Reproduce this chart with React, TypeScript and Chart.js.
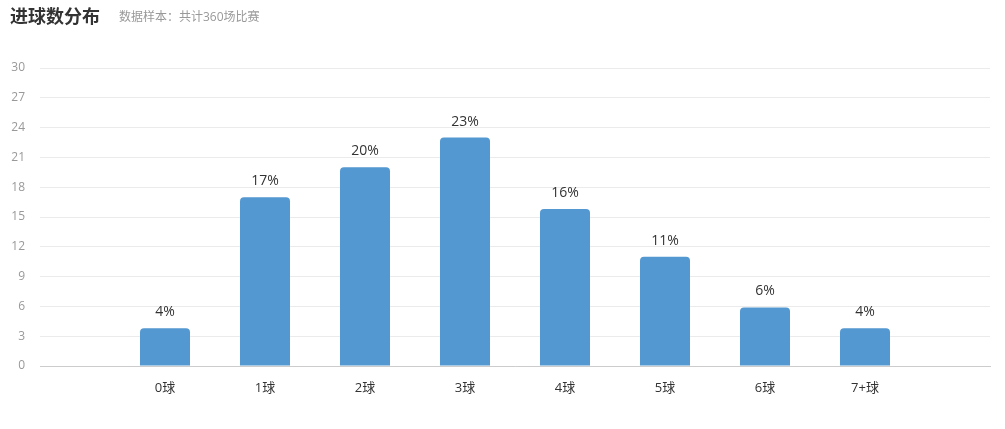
import React, { useEffect, useRef } from "react";
import { Chart, registerables } from "chart.js";

Chart.register(...registerables);

const categories = ["0球", "1球", "2球", "3球", "4球", "5球", "6球", "7+球"];
const values = [3.8, 17, 20, 23, 15.8, 11, 5.9, 3.8];
const yTicks = [0, 3, 6, 9, 12, 15, 18, 21, 24, 27, 30];

const FONT = "'Open Sans', 'Noto Sans CJK SC', sans-serif";

const labelPlugin = {
  id: "barLabels",
  afterDatasetsDraw(chart: any) {
    const ctx = chart.ctx;
    const meta = chart.getDatasetMeta(0);
    ctx.save();
    ctx.fillStyle = "#333";
    ctx.font = `14px ${FONT}`;
    ctx.textAlign = "center";
    ctx.textBaseline = "bottom";
    meta.data.forEach((el: any, i: number) => {
      ctx.fillText(Math.round(values[i]) + "%", el.x, el.y - 9);
    });
    ctx.restore();
  },
};

export default function App() {
  const ref = useRef<HTMLCanvasElement>(null);
  useEffect(() => {
    if (!ref.current) return;
    const chart = new Chart(ref.current, {
      type: "bar",
      data: {
        datasets: [
          {
            data: values.map((v, i) => ({ x: i, y: v })),
            backgroundColor: "#5398d1",
            borderRadius: { topLeft: 4, topRight: 4, bottomLeft: 0, bottomRight: 0 },
            borderSkipped: "bottom",
            barPercentage: 0.5,
            categoryPercentage: 1,
          },
        ],
      },
      options: {
        animation: false,
        responsive: false,
        maintainAspectRatio: false,
        layout: { padding: { left: 0, right: 15, top: 68, bottom: 0 } },
        plugins: { legend: { display: false }, tooltip: { enabled: false } },
        scales: {
          x: {
            type: "linear",
            offset: false,
            min: -1.25,
            max: 8.25,
            afterBuildTicks: (axis: any) => {
              axis.ticks = categories.map((_, i) => ({ value: i }));
            },
            afterFit: (scale: any) => {
              scale.height = 63;
            },
            ticks: {
              autoSkip: false,
              maxRotation: 0,
              padding: 14,
              color: "#333",
              font: { size: 13, family: FONT },
              callback: (v: any) => categories[v] ?? "",
            },
            grid: { display: false, drawTicks: false, offset: false },
            border: { display: true, color: "#ccc" },
          },
          y: {
            min: 0,
            max: 30,
            afterBuildTicks: (axis: any) => {
              axis.ticks = yTicks.map((v) => ({ value: v }));
            },
            afterFit: (scale: any) => {
              scale.width = 40;
            },
            ticks: {
              padding: 15,
              color: "#999",
              font: { size: 12, family: FONT },
            },
            grid: { color: "#ebebeb", drawTicks: false },
            border: { display: false },
          },
        },
      },
      plugins: [labelPlugin],
    } as any);
    return () => chart.destroy();
  }, []);

  return (
    <div style={{ position: "fixed", left: 0, top: 0, width: 1005, height: 429, background: "#fff" }}>
      <canvas ref={ref} width={1005} height={429} style={{ position: "absolute", left: 0, top: 0 }} />
      <div
        style={{
          position: "absolute",
          left: 10,
          top: 2,
          fontFamily: FONT,
          fontSize: 18,
          fontWeight: "bold",
          color: "#333",
          whiteSpace: "nowrap",
        }}
      >
        进球数分布
      </div>
      <div
        style={{
          position: "absolute",
          left: 119,
          top: 7,
          fontFamily: FONT,
          fontSize: 12,
          color: "#999",
          whiteSpace: "nowrap",
        }}
      >
        数据样本：共计360场比赛
      </div>
    </div>
  );
}
